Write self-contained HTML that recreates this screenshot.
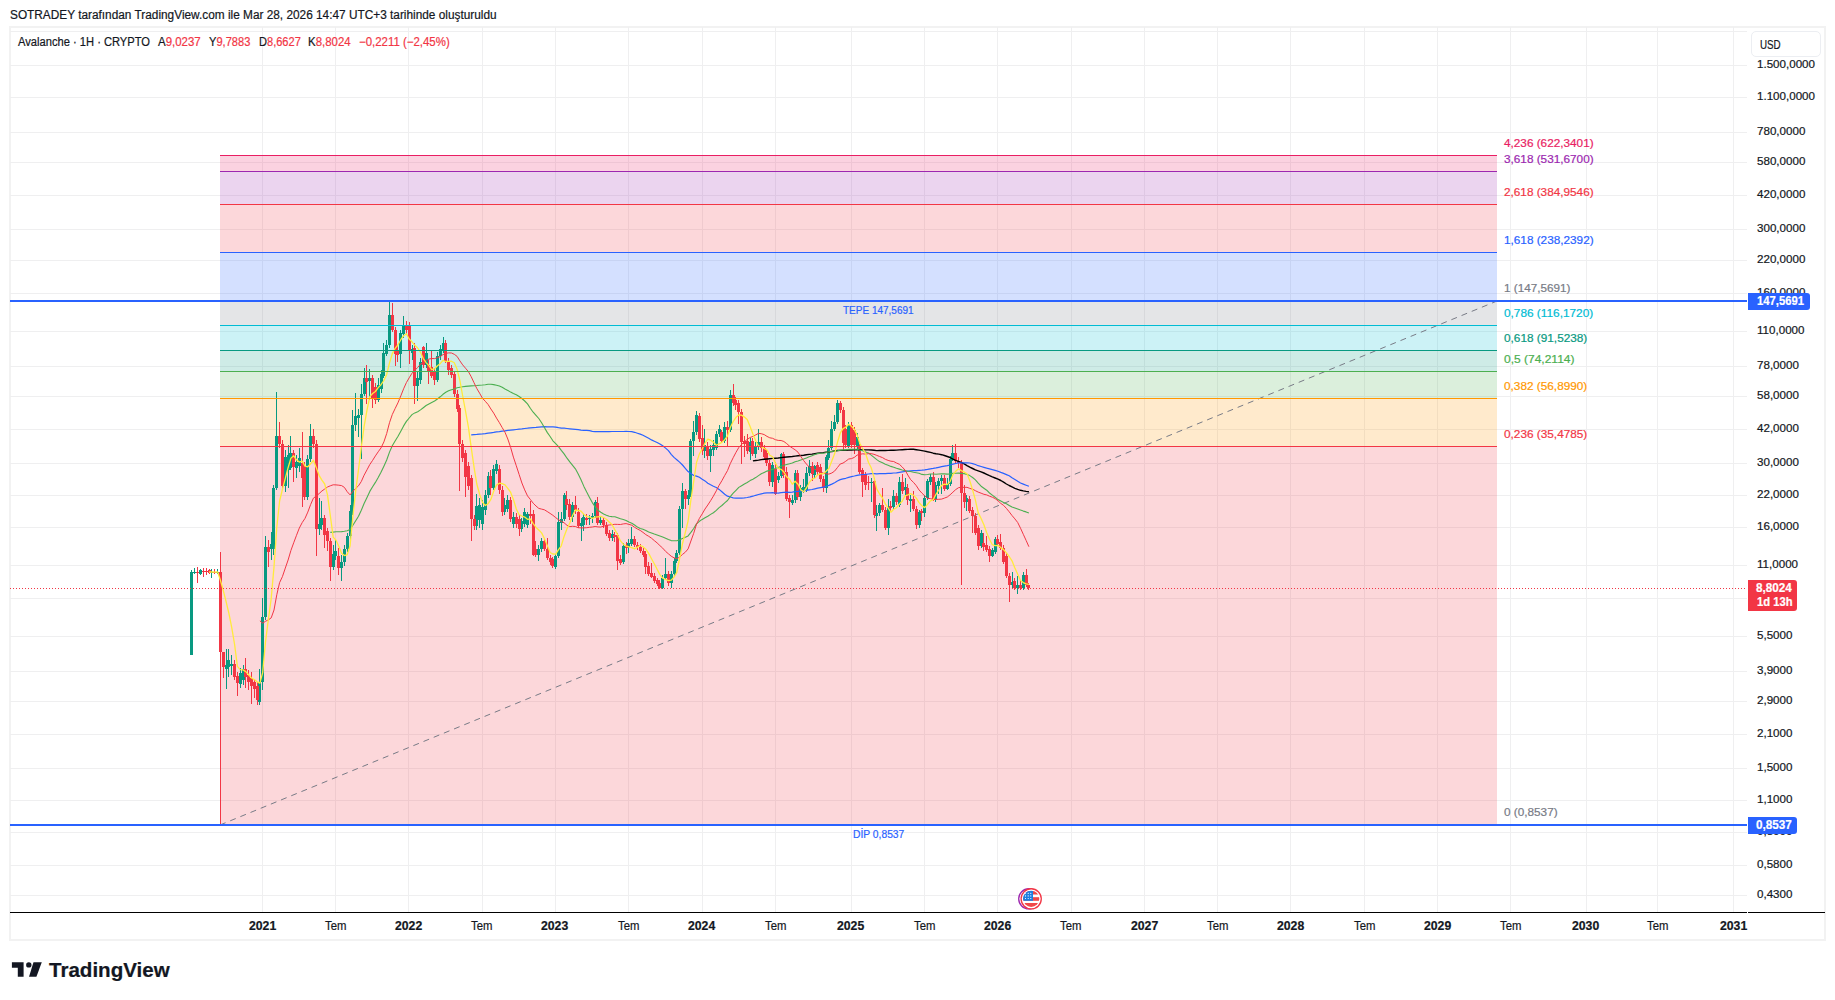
<!DOCTYPE html>
<html><head><meta charset="utf-8">
<style>
html,body{margin:0;padding:0;background:#fff;}
body{width:1835px;height:1000px;overflow:hidden;position:relative;font-family:"Liberation Sans",sans-serif;color:#131722;}
#frame{position:absolute;left:9px;top:26px;width:1813px;height:911px;border:2px solid #f2f2f2;}
#svg{position:absolute;left:0;top:0;}
.t{position:absolute;white-space:nowrap;transform-origin:0 0;-webkit-text-stroke:0.2px currentColor;}
#usd{position:absolute;left:1751px;top:31px;width:70px;height:26px;border:1px solid #eceef2;border-radius:5px;background:#fff;box-sizing:border-box;}
.badge{position:absolute;left:1748px;border-radius:0 3px 3px 0;z-index:2;}
#usd{z-index:2;}
</style></head><body>
<div id="frame"></div>
<svg id="svg" width="1835" height="1000" viewBox="0 0 1835 1000">
<path d="M10 31.5H1747 M10 65.5H1747 M10 97.5H1747 M10 132.5H1747 M10 162.5H1747 M10 195.5H1747 M10 229.5H1747 M10 260.5H1747 M10 293.5H1747 M10 331.5H1747 M10 366.5H1747 M10 396.5H1747 M10 429.5H1747 M10 463.5H1747 M10 495.5H1747 M10 527.5H1747 M10 565.5H1747 M10 598.5H1747 M10 636.5H1747 M10 671.5H1747 M10 701.5H1747 M10 734.5H1747 M10 768.5H1747 M10 800.5H1747 M10 832.5H1747 M10 865.5H1747 M10 895.5H1747 M262.5 27V912 M335.5 27V912 M408.5 27V912 M482.5 27V912 M555.5 27V912 M628.5 27V912 M702.5 27V912 M775.5 27V912 M851.5 27V912 M924.5 27V912 M997.5 27V912 M1071.5 27V912 M1144.5 27V912 M1217.5 27V912 M1290.5 27V912 M1364.5 27V912 M1437.5 27V912 M1510.5 27V912 M1586.5 27V912 M1657.5 27V912 M1733.5 27V912" stroke="#efeff0" stroke-width="1" fill="none"/>
<rect x="220" y="446.5" width="1277" height="378.5" fill="#f23645" fill-opacity="0.2"/>
<rect x="220" y="398.5" width="1277" height="48.0" fill="#ff9800" fill-opacity="0.2"/>
<rect x="220" y="371.5" width="1277" height="27.0" fill="#4caf50" fill-opacity="0.2"/>
<rect x="220" y="350.5" width="1277" height="21.0" fill="#089981" fill-opacity="0.2"/>
<rect x="220" y="325.5" width="1277" height="25.0" fill="#00bcd4" fill-opacity="0.2"/>
<rect x="220" y="301.0" width="1277" height="24.5" fill="#787b86" fill-opacity="0.2"/>
<rect x="220" y="252.5" width="1277" height="48.5" fill="#2962ff" fill-opacity="0.2"/>
<rect x="220" y="204.5" width="1277" height="48.0" fill="#f23645" fill-opacity="0.2"/>
<rect x="220" y="171.5" width="1277" height="33.0" fill="#9c27b0" fill-opacity="0.2"/>
<rect x="220" y="155.5" width="1277" height="16.0" fill="#e91e63" fill-opacity="0.2"/>
<line x1="220" y1="825.0" x2="1497" y2="301.0" stroke="#787b86" stroke-width="1" stroke-dasharray="6 5"/>
<path d="M191.5 570.0V655.0 M194.5 568.0V574.0 M200.5 569.0V575.0 M211.5 569.0V578.0 M217.5 569.0V574.0 M226.5 649.0V689.0 M228.5 649.0V677.0 M231.5 655.0V675.0 M240.5 668.0V688.0 M243.5 665.0V685.0 M259.5 669.0V705.0 M262.5 598.0V690.0 M265.5 536.0V620.0 M271.5 532.0V560.0 M273.5 485.0V555.0 M276.5 392.0V490.0 M285.5 450.0V492.0 M288.5 445.0V488.0 M290.5 436.0V470.0 M296.5 455.0V478.0 M299.5 448.0V472.0 M307.5 455.0V500.0 M310.5 424.0V462.0 M319.5 498.0V535.0 M321.5 501.0V530.0 M333.5 545.0V570.0 M335.5 540.0V560.0 M341.5 555.0V581.0 M344.5 545.0V566.0 M347.5 533.0V552.0 M350.5 505.0V540.0 M352.5 410.0V515.0 M355.5 393.0V431.0 M358.5 409.0V437.0 M361.5 384.0V459.0 M364.5 368.0V396.0 M369.5 369.0V400.0 M378.5 378.0V402.0 M381.5 370.0V393.0 M383.5 343.0V378.0 M386.5 340.0V356.0 M389.5 301.0V348.0 M400.5 330.0V368.0 M403.5 316.0V338.0 M412.5 345.0V360.0 M417.5 372.0V401.0 M420.5 358.0V384.0 M426.5 343.0V368.0 M437.5 352.0V382.0 M440.5 345.0V360.0 M443.5 337.0V353.0 M476.5 494.0V530.0 M479.5 498.0V528.0 M482.5 500.0V530.0 M485.5 490.0V515.0 M488.5 472.0V498.0 M493.5 465.0V490.0 M496.5 460.0V474.0 M504.5 498.0V515.0 M507.5 495.0V512.0 M513.5 512.0V528.0 M521.5 518.0V532.0 M524.5 508.0V527.0 M527.5 512.0V528.0 M538.5 545.0V561.0 M541.5 538.0V552.0 M555.5 554.0V569.0 M558.5 512.0V558.0 M561.5 512.0V530.0 M564.5 493.0V521.0 M572.5 502.0V522.0 M581.5 518.0V541.0 M583.5 514.0V531.0 M589.5 515.0V525.0 M592.5 513.0V523.0 M595.5 500.0V518.0 M600.5 516.0V525.0 M612.5 530.0V541.0 M623.5 543.0V564.0 M628.5 539.0V553.0 M631.5 527.0V546.0 M662.5 575.0V589.0 M665.5 558.0V580.0 M671.5 571.0V588.0 M674.5 558.0V576.0 M676.5 550.0V563.0 M679.5 506.0V555.0 M682.5 483.0V528.0 M688.5 490.0V505.0 M690.5 439.0V497.0 M693.5 421.0V456.0 M696.5 411.0V435.0 M704.5 429.0V458.0 M710.5 445.0V472.0 M713.5 440.0V456.0 M716.5 431.0V450.0 M719.5 425.0V437.0 M724.5 422.0V443.0 M730.5 390.0V432.0 M750.5 438.0V460.0 M755.5 442.0V458.0 M758.5 429.0V450.0 M772.5 462.0V487.0 M778.5 472.0V483.0 M781.5 453.0V478.0 M792.5 495.0V505.0 M795.5 470.0V503.0 M800.5 485.0V501.0 M803.5 479.0V493.0 M806.5 467.0V492.0 M809.5 460.0V476.0 M814.5 465.0V478.0 M826.5 455.0V493.0 M828.5 440.0V460.0 M831.5 421.0V450.0 M834.5 415.0V431.0 M837.5 400.0V424.0 M848.5 422.0V448.0 M857.5 433.0V449.0 M871.5 478.0V502.0 M876.5 505.0V531.0 M879.5 503.0V516.0 M888.5 499.0V535.0 M893.5 490.0V509.0 M899.5 477.0V507.0 M905.5 478.0V495.0 M910.5 495.0V512.0 M919.5 510.0V528.0 M924.5 495.0V517.0 M927.5 479.0V500.0 M930.5 474.0V485.0 M935.5 482.0V502.0 M938.5 478.0V494.0 M941.5 475.0V494.0 M947.5 478.0V490.0 M950.5 456.0V486.0 M952.5 445.0V461.0 M966.5 495.0V511.0 M981.5 530.0V548.0 M992.5 548.0V557.0 M995.5 537.0V554.0 M1012.5 572.0V588.0 M1017.5 576.0V594.0 M1023.5 572.0V590.0" stroke="#089981" stroke-width="1" fill="none"/>
<path d="M197.5 567.0V583.0 M203.5 568.0V577.0 M206.5 568.0V575.0 M209.5 569.0V574.0 M214.5 569.0V574.0 M220.5 552.0V826.0 M223.5 652.0V678.0 M234.5 660.0V680.0 M237.5 672.0V696.0 M245.5 658.0V688.0 M248.5 670.0V690.0 M251.5 672.0V704.0 M254.5 680.0V698.0 M257.5 682.0V705.0 M268.5 540.0V567.0 M279.5 422.0V448.0 M282.5 440.0V490.0 M293.5 450.0V482.0 M302.5 432.0V507.0 M304.5 462.0V500.0 M313.5 429.0V448.0 M316.5 440.0V556.0 M324.5 515.0V548.0 M327.5 528.0V551.0 M330.5 538.0V581.0 M338.5 548.0V575.0 M366.5 365.0V404.0 M372.5 375.0V408.0 M375.5 383.0V404.0 M392.5 303.0V332.0 M395.5 327.0V366.0 M397.5 345.0V362.0 M406.5 321.0V335.0 M409.5 322.0V364.0 M414.5 343.0V404.0 M423.5 346.0V368.0 M428.5 360.0V384.0 M431.5 350.0V378.0 M434.5 368.0V385.0 M445.5 340.0V363.0 M448.5 358.0V375.0 M451.5 365.0V378.0 M454.5 372.0V397.0 M457.5 390.0V412.0 M459.5 405.0V491.0 M462.5 440.0V462.0 M465.5 450.0V497.0 M468.5 462.0V490.0 M471.5 475.0V541.0 M474.5 515.0V530.0 M490.5 470.0V495.0 M499.5 465.0V494.0 M502.5 486.0V516.0 M510.5 497.0V522.0 M516.5 513.0V528.0 M519.5 515.0V536.0 M530.5 501.0V524.0 M533.5 510.0V556.0 M535.5 541.0V557.0 M544.5 539.0V551.0 M547.5 538.0V560.0 M550.5 555.0V565.0 M552.5 557.0V568.0 M566.5 491.0V510.0 M569.5 499.0V520.0 M575.5 496.0V514.0 M578.5 508.0V528.0 M586.5 514.0V525.0 M597.5 497.0V525.0 M603.5 517.0V528.0 M606.5 522.0V536.0 M609.5 530.0V541.0 M614.5 532.0V542.0 M617.5 533.0V570.0 M620.5 555.0V565.0 M626.5 542.0V554.0 M634.5 536.0V547.0 M637.5 542.0V550.0 M640.5 544.0V553.0 M643.5 548.0V557.0 M645.5 551.0V574.0 M648.5 562.0V576.0 M651.5 563.0V578.0 M654.5 573.0V583.0 M657.5 578.0V586.0 M659.5 580.0V589.0 M668.5 571.0V586.0 M685.5 489.0V509.0 M699.5 413.0V442.0 M702.5 425.0V455.0 M707.5 442.0V460.0 M721.5 430.0V443.0 M727.5 421.0V447.0 M733.5 384.0V406.0 M735.5 397.0V410.0 M738.5 400.0V424.0 M741.5 409.0V464.0 M744.5 436.0V457.0 M747.5 434.0V454.0 M752.5 438.0V456.0 M761.5 437.0V452.0 M764.5 445.0V460.0 M766.5 450.0V466.0 M769.5 460.0V486.0 M775.5 462.0V495.0 M783.5 452.0V478.0 M786.5 467.0V501.0 M789.5 495.0V518.0 M797.5 470.0V500.0 M812.5 462.0V481.0 M817.5 462.0V475.0 M820.5 464.0V482.0 M823.5 476.0V492.0 M840.5 401.0V413.0 M843.5 407.0V451.0 M845.5 425.0V448.0 M851.5 422.0V448.0 M854.5 427.0V454.0 M859.5 444.0V474.0 M862.5 468.0V497.0 M865.5 472.0V490.0 M868.5 476.0V490.0 M874.5 478.0V518.0 M882.5 488.0V512.0 M885.5 507.0V530.0 M890.5 501.0V511.0 M896.5 493.0V505.0 M902.5 474.0V494.0 M907.5 484.0V505.0 M913.5 491.0V511.0 M916.5 506.0V529.0 M921.5 509.0V521.0 M933.5 472.0V501.0 M944.5 475.0V491.0 M955.5 444.0V463.0 M958.5 457.0V468.0 M961.5 460.0V585.0 M964.5 485.0V508.0 M969.5 496.0V513.0 M972.5 507.0V533.0 M975.5 513.0V535.0 M978.5 525.0V550.0 M983.5 533.0V551.0 M986.5 536.0V552.0 M989.5 546.0V562.0 M997.5 535.0V546.0 M1000.5 534.0V550.0 M1003.5 545.0V564.0 M1006.5 553.0V578.0 M1009.5 573.0V602.0 M1014.5 578.0V590.0 M1020.5 580.0V590.0 M1026.5 569.0V587.0 M1028.5 583.0V590.0" stroke="#f23645" stroke-width="1" fill="none"/>
<path d="M190 572.0h3v83.0h-3z M193 572.0h3v1.0h-3z M199 570.0h3v4.0h-3z M210 572.0h3v1.0h-3z M216 572.0h3v1.0h-3z M225 665.0h3v4.0h-3z M227 660.0h3v7.0h-3z M230 664.0h3v2.0h-3z M239 673.0h3v11.0h-3z M242 669.0h3v11.0h-3z M258 682.0h3v20.0h-3z M261 617.0h3v65.0h-3z M264 547.0h3v70.0h-3z M270 544.0h3v5.0h-3z M272 488.0h3v61.0h-3z M275 436.0h3v52.0h-3z M284 457.0h3v29.0h-3z M287 455.0h3v15.0h-3z M289 453.0h3v15.0h-3z M295 462.0h3v6.0h-3z M298 458.0h3v8.0h-3z M306 459.0h3v38.0h-3z M309 436.0h3v23.0h-3z M318 524.0h3v5.0h-3z M320 518.0h3v7.0h-3z M332 554.0h3v13.0h-3z M334 551.0h3v5.0h-3z M340 562.0h3v6.0h-3z M343 549.0h3v13.0h-3z M346 536.0h3v13.0h-3z M349 511.0h3v25.0h-3z M351 425.0h3v86.0h-3z M354 416.0h3v9.0h-3z M357 415.0h3v3.0h-3z M360 394.0h3v21.0h-3z M363 378.0h3v16.0h-3z M368 378.0h3v3.0h-3z M377 385.0h3v15.0h-3z M380 374.0h3v15.0h-3z M382 353.0h3v23.0h-3z M385 345.0h3v9.0h-3z M388 315.0h3v30.0h-3z M399 333.0h3v21.0h-3z M402 325.0h3v9.0h-3z M411 349.0h3v4.0h-3z M416 378.0h3v8.0h-3z M419 362.0h3v18.0h-3z M425 353.0h3v12.0h-3z M436 356.0h3v24.0h-3z M439 349.0h3v7.0h-3z M442 343.0h3v8.0h-3z M475 506.0h3v20.0h-3z M478 505.0h3v15.0h-3z M481 507.0h3v17.0h-3z M484 495.0h3v15.0h-3z M487 476.0h3v19.0h-3z M492 469.0h3v19.0h-3z M495 464.0h3v7.0h-3z M503 505.0h3v7.0h-3z M506 500.0h3v9.0h-3z M512 517.0h3v7.0h-3z M520 521.0h3v8.0h-3z M523 512.0h3v12.0h-3z M526 514.0h3v11.0h-3z M537 549.0h3v6.0h-3z M540 541.0h3v8.0h-3z M554 556.0h3v11.0h-3z M557 522.0h3v34.0h-3z M560 519.0h3v4.0h-3z M563 495.0h3v24.0h-3z M571 505.0h3v12.0h-3z M580 523.0h3v3.0h-3z M582 517.0h3v8.0h-3z M588 518.0h3v1.0h-3z M591 516.0h3v2.0h-3z M594 502.0h3v14.0h-3z M599 520.0h3v3.0h-3z M611 534.0h3v4.0h-3z M622 546.0h3v16.0h-3z M627 543.0h3v4.0h-3z M630 539.0h3v5.0h-3z M661 578.0h3v10.0h-3z M664 574.0h3v4.0h-3z M670 574.0h3v9.0h-3z M673 561.0h3v13.0h-3z M675 553.0h3v8.0h-3z M678 509.0h3v44.0h-3z M681 491.0h3v18.0h-3z M687 495.0h3v4.0h-3z M689 441.0h3v54.0h-3z M692 432.0h3v9.0h-3z M695 415.0h3v17.0h-3z M703 445.0h3v6.0h-3z M709 449.0h3v7.0h-3z M712 445.0h3v5.0h-3z M715 434.0h3v14.0h-3z M718 429.0h3v5.0h-3z M723 427.0h3v14.0h-3z M729 395.0h3v35.0h-3z M749 442.0h3v10.0h-3z M754 446.0h3v8.0h-3z M757 442.0h3v5.0h-3z M771 465.0h3v17.0h-3z M777 476.0h3v4.0h-3z M780 454.0h3v22.0h-3z M791 500.0h3v3.0h-3z M794 473.0h3v27.0h-3z M799 488.0h3v9.0h-3z M802 487.0h3v3.0h-3z M805 473.0h3v17.0h-3z M808 466.0h3v7.0h-3z M813 466.0h3v9.0h-3z M825 457.0h3v31.0h-3z M827 448.0h3v10.0h-3z M830 429.0h3v19.0h-3z M833 422.0h3v7.0h-3z M836 403.0h3v19.0h-3z M847 425.0h3v21.0h-3z M856 437.0h3v9.0h-3z M870 482.0h3v1.0h-3z M875 513.0h3v3.0h-3z M878 505.0h3v8.0h-3z M887 508.0h3v20.0h-3z M892 496.0h3v11.0h-3z M898 482.0h3v23.0h-3z M904 487.0h3v3.0h-3z M909 499.0h3v2.0h-3z M918 512.0h3v13.0h-3z M923 498.0h3v15.0h-3z M926 481.0h3v17.0h-3z M929 477.0h3v5.0h-3z M934 485.0h3v14.0h-3z M937 481.0h3v5.0h-3z M940 478.0h3v3.0h-3z M946 484.0h3v5.0h-3z M949 459.0h3v25.0h-3z M951 453.0h3v6.0h-3z M965 498.0h3v4.0h-3z M980 533.0h3v13.0h-3z M991 550.0h3v6.0h-3z M994 539.0h3v13.0h-3z M1011 582.0h3v3.0h-3z M1016 585.0h3v3.0h-3z M1022 575.0h3v13.0h-3z" fill="#089981"/>
<path d="M196 572.0h3v1.0h-3z M202 571.0h3v1.0h-3z M205 571.0h3v1.0h-3z M208 570.0h3v3.0h-3z M213 572.0h3v1.0h-3z M219 572.0h3v80.0h-3z M222 652.0h3v15.0h-3z M233 664.0h3v13.0h-3z M236 676.0h3v7.0h-3z M244 669.0h3v8.0h-3z M247 675.0h3v7.0h-3z M250 678.0h3v8.0h-3z M253 682.0h3v7.0h-3z M256 686.0h3v14.0h-3z M267 547.0h3v5.0h-3z M278 436.0h3v8.0h-3z M281 444.0h3v42.0h-3z M292 453.0h3v14.0h-3z M301 463.0h3v15.0h-3z M303 466.0h3v31.0h-3z M312 436.0h3v8.0h-3z M315 444.0h3v85.0h-3z M323 518.0h3v17.0h-3z M326 531.0h3v10.0h-3z M329 541.0h3v26.0h-3z M337 556.0h3v12.0h-3z M365 378.0h3v4.0h-3z M371 378.0h3v21.0h-3z M374 387.0h3v13.0h-3z M391 315.0h3v15.0h-3z M394 330.0h3v24.0h-3z M396 350.0h3v5.0h-3z M405 325.0h3v5.0h-3z M408 326.0h3v25.0h-3z M413 348.0h3v38.0h-3z M422 347.0h3v18.0h-3z M427 365.0h3v6.0h-3z M430 367.0h3v9.0h-3z M433 372.0h3v8.0h-3z M444 343.0h3v18.0h-3z M447 361.0h3v9.0h-3z M450 368.0h3v7.0h-3z M453 374.0h3v20.0h-3z M456 394.0h3v15.0h-3z M458 408.0h3v36.0h-3z M461 444.0h3v14.0h-3z M464 453.0h3v24.0h-3z M467 466.0h3v20.0h-3z M470 478.0h3v41.0h-3z M473 519.0h3v7.0h-3z M489 476.0h3v12.0h-3z M498 469.0h3v21.0h-3z M501 490.0h3v22.0h-3z M509 500.0h3v19.0h-3z M515 517.0h3v7.0h-3z M518 519.0h3v10.0h-3z M529 514.0h3v2.0h-3z M532 514.0h3v41.0h-3z M534 549.0h3v6.0h-3z M543 541.0h3v8.0h-3z M546 549.0h3v9.0h-3z M549 558.0h3v4.0h-3z M551 559.0h3v7.0h-3z M565 499.0h3v6.0h-3z M568 504.0h3v13.0h-3z M574 505.0h3v5.0h-3z M577 512.0h3v14.0h-3z M585 518.0h3v2.0h-3z M596 503.0h3v20.0h-3z M602 520.0h3v5.0h-3z M605 525.0h3v9.0h-3z M608 533.0h3v5.0h-3z M613 535.0h3v2.0h-3z M616 535.0h3v26.0h-3z M619 559.0h3v4.0h-3z M625 545.0h3v3.0h-3z M633 539.0h3v6.0h-3z M636 545.0h3v2.0h-3z M639 547.0h3v4.0h-3z M642 551.0h3v4.0h-3z M644 554.0h3v13.0h-3z M647 566.0h3v8.0h-3z M650 573.0h3v4.0h-3z M653 576.0h3v5.0h-3z M656 580.0h3v4.0h-3z M658 583.0h3v5.0h-3z M667 574.0h3v9.0h-3z M684 491.0h3v8.0h-3z M698 416.0h3v23.0h-3z M701 438.0h3v13.0h-3z M706 446.0h3v10.0h-3z M720 432.0h3v9.0h-3z M726 427.0h3v3.0h-3z M732 395.0h3v8.0h-3z M734 400.0h3v5.0h-3z M737 403.0h3v9.0h-3z M740 412.0h3v30.0h-3z M743 441.0h3v3.0h-3z M746 441.0h3v10.0h-3z M751 441.0h3v13.0h-3z M760 442.0h3v6.0h-3z M763 448.0h3v9.0h-3z M765 453.0h3v10.0h-3z M768 463.0h3v19.0h-3z M774 469.0h3v25.0h-3z M782 454.0h3v21.0h-3z M785 472.0h3v27.0h-3z M788 498.0h3v4.0h-3z M796 473.0h3v24.0h-3z M811 466.0h3v8.0h-3z M816 465.0h3v7.0h-3z M819 467.0h3v12.0h-3z M822 479.0h3v9.0h-3z M839 403.0h3v7.0h-3z M842 410.0h3v33.0h-3z M844 429.0h3v16.0h-3z M850 425.0h3v20.0h-3z M853 430.0h3v15.0h-3z M858 446.0h3v26.0h-3z M861 470.0h3v12.0h-3z M864 474.0h3v11.0h-3z M867 482.0h3v1.0h-3z M873 481.0h3v34.0h-3z M881 505.0h3v5.0h-3z M884 510.0h3v18.0h-3z M889 506.0h3v2.0h-3z M895 496.0h3v6.0h-3z M901 482.0h3v9.0h-3z M906 488.0h3v12.0h-3z M912 499.0h3v10.0h-3z M915 509.0h3v16.0h-3z M920 511.0h3v2.0h-3z M932 477.0h3v23.0h-3z M943 478.0h3v11.0h-3z M954 453.0h3v8.0h-3z M957 461.0h3v2.0h-3z M960 463.0h3v30.0h-3z M963 493.0h3v9.0h-3z M968 499.0h3v12.0h-3z M971 510.0h3v6.0h-3z M974 516.0h3v17.0h-3z M977 528.0h3v18.0h-3z M982 543.0h3v4.0h-3z M985 545.0h3v5.0h-3z M988 549.0h3v7.0h-3z M996 539.0h3v5.0h-3z M999 542.0h3v6.0h-3z M1002 548.0h3v14.0h-3z M1005 556.0h3v20.0h-3z M1008 576.0h3v9.0h-3z M1013 581.0h3v7.0h-3z M1019 585.0h3v3.0h-3z M1025 575.0h3v10.0h-3z M1027 585.0h3v3.0h-3z" fill="#f23645"/>
<polyline points="752.9,460.9 755.7,460.5 758.5,460.1 761.3,459.6 764.2,459.3 767.0,459.0 769.8,458.7 772.6,458.4 775.4,458.2 778.2,458.0 781.1,457.6 783.9,457.3 786.7,457.0 789.5,456.7 792.3,456.5 795.1,456.1 798.0,455.8 800.8,455.5 803.6,455.2 806.4,454.8 809.2,454.4 812.0,454.1 814.9,453.7 817.7,453.3 820.5,452.9 823.3,452.6 826.1,452.2 828.9,451.9 831.8,451.5 834.6,451.0 837.4,450.5 840.2,450.4 843.0,450.4 845.8,450.2 848.7,450.0 851.5,450.0 854.3,449.9 857.1,449.8 859.9,449.8 862.7,449.9 865.6,449.9 868.4,449.9 871.2,450.0 874.0,450.3 876.8,450.6 879.6,450.5 882.5,450.5 885.3,450.5 888.1,450.4 890.9,450.3 893.7,450.2 896.5,450.1 899.4,449.9 902.2,449.7 905.0,449.5 907.8,449.4 910.6,449.3 913.5,449.3 916.3,449.7 919.1,450.1 921.9,450.6 924.7,451.1 927.5,451.8 930.4,452.4 933.2,453.2 936.0,453.7 938.8,454.1 941.6,454.7 944.4,455.5 947.3,456.5 950.1,457.5 952.9,459.1 955.7,460.4 958.5,461.4 961.3,462.4 964.2,463.9 967.0,465.6 969.8,467.2 972.6,468.5 975.4,469.9 978.2,470.8 981.1,471.8 983.9,473.0 986.7,474.3 989.5,475.7 992.3,476.9 995.1,478.0 998.0,479.1 1000.8,480.5 1003.6,482.2 1006.4,484.0 1009.2,485.5 1012.0,486.9 1014.9,488.3 1017.7,489.4 1020.5,490.3 1023.3,490.9 1026.1,491.4 1028.9,491.8" fill="none" stroke="#000000" stroke-width="1.4" stroke-linejoin="round"/>
<polyline points="471.2,434.8 474.0,434.6 476.8,434.4 479.6,434.1 482.5,433.9 485.3,433.6 488.1,433.2 490.9,432.8 493.7,432.4 496.5,431.9 499.4,431.6 502.2,431.2 505.0,430.9 507.8,430.4 510.6,430.1 513.4,429.8 516.3,429.5 519.1,429.2 521.9,428.9 524.7,428.5 527.5,428.2 530.3,427.8 533.2,427.6 536.0,427.4 538.8,427.1 541.6,426.9 544.4,426.7 547.2,426.8 550.1,426.8 552.9,426.9 555.7,427.1 558.5,427.7 561.3,428.1 564.1,428.2 567.0,428.5 569.8,428.8 572.6,429.1 575.4,429.4 578.2,429.7 581.0,430.1 583.9,430.3 586.7,430.4 589.5,430.7 592.3,431.3 595.1,431.7 597.9,431.6 600.8,431.6 603.6,431.7 606.4,431.7 609.2,431.6 612.0,431.5 614.9,431.5 617.7,431.5 620.5,431.5 623.3,431.5 626.1,431.4 628.9,431.5 631.8,431.6 634.6,432.3 637.4,433.2 640.2,434.1 643.0,435.3 645.8,436.8 648.7,438.3 651.5,439.9 654.3,441.2 657.1,442.5 659.9,444.0 662.7,445.8 665.6,448.1 668.4,450.6 671.2,454.3 674.0,457.4 676.8,459.8 679.6,462.1 682.5,465.0 685.3,468.3 688.1,471.6 690.9,473.5 693.7,475.5 696.5,476.1 699.4,477.3 702.2,479.2 705.0,480.9 707.8,483.2 710.6,484.8 713.4,486.3 716.3,487.5 719.1,489.4 721.9,491.8 724.7,494.3 727.5,496.2 730.3,497.0 733.2,497.8 736.0,498.1 738.8,498.2 741.6,498.1 744.4,497.9 747.2,497.5 750.1,496.9 752.9,496.2 755.7,495.3 758.5,494.5 761.3,493.8 764.2,493.2 767.0,492.9 769.8,492.9 772.6,492.7 775.4,493.0 778.2,493.1 781.1,492.7 783.9,492.3 786.7,492.2 789.5,492.3 792.3,492.1 795.1,491.7 798.0,491.4 800.8,491.1 803.6,490.8 806.4,490.4 809.2,489.9 812.0,489.5 814.9,488.8 817.7,488.1 820.5,487.6 823.3,487.1 826.1,486.3 828.9,485.4 831.8,484.1 834.6,482.7 837.4,481.0 840.2,479.6 843.0,478.8 845.8,478.3 848.7,477.4 851.5,476.6 854.3,476.0 857.1,475.3 859.9,474.8 862.7,474.5 865.6,474.3 868.4,474.0 871.2,473.7 874.0,473.7 876.8,473.8 879.6,473.7 882.5,473.6 885.3,473.6 888.1,473.4 890.9,473.3 893.7,473.0 896.5,472.8 899.4,472.3 902.2,471.9 905.0,471.5 907.8,471.2 910.6,470.9 913.5,470.7 916.3,470.6 919.1,470.4 921.9,470.2 924.7,469.9 927.5,469.4 930.4,468.8 933.2,468.4 936.0,467.9 938.8,467.3 941.6,466.7 944.4,466.2 947.3,465.7 950.1,465.0 952.9,464.2 955.7,463.5 958.5,462.9 961.3,462.8 964.2,462.9 967.0,462.9 969.8,463.0 972.6,463.6 975.4,464.5 978.2,465.7 981.1,466.5 983.9,467.3 986.7,468.1 989.5,468.8 992.3,469.6 995.1,470.4 998.0,471.3 1000.8,472.4 1003.6,473.4 1006.4,474.6 1009.2,475.8 1012.0,477.8 1014.9,479.5 1017.7,481.3 1020.5,483.0 1023.3,484.1 1026.1,485.2 1028.9,486.3" fill="none" stroke="#2962ff" stroke-width="1.2" stroke-linejoin="round"/>
<polyline points="330.3,532.4 333.2,532.1 336.0,531.8 338.8,531.7 341.6,531.6 344.4,531.3 347.2,530.7 350.1,529.6 352.9,525.3 355.7,520.7 358.5,516.3 361.3,510.3 364.1,503.5 367.0,497.4 369.8,491.4 372.6,486.8 375.4,482.4 378.2,477.5 381.0,472.3 383.9,466.2 386.7,460.0 389.5,452.1 392.3,445.7 395.1,441.0 397.9,436.5 400.8,431.2 403.6,425.9 406.4,421.4 409.2,418.0 412.0,414.6 414.8,412.9 417.7,411.7 420.5,409.9 423.3,407.7 426.1,405.5 428.9,403.9 431.7,402.5 434.6,401.0 437.4,399.0 440.2,396.8 443.0,394.3 445.8,392.3 448.6,390.8 451.5,389.7 454.3,389.0 457.1,387.8 459.9,387.2 462.7,386.7 465.5,386.4 468.4,386.1 471.2,385.9 474.0,385.7 476.8,385.5 479.6,385.2 482.5,385.0 485.3,384.7 488.1,384.3 490.9,384.2 493.7,384.6 496.5,385.2 499.4,386.0 502.2,387.3 505.0,388.9 507.8,390.4 510.6,392.1 513.4,393.5 516.3,394.8 519.1,396.5 521.9,398.5 524.7,401.0 527.5,403.9 530.3,408.2 533.2,412.2 536.0,415.4 538.8,418.5 541.6,422.7 544.4,427.6 547.2,432.4 550.1,436.5 552.9,440.8 555.7,443.7 558.5,446.7 561.3,450.4 564.1,453.9 567.0,458.2 569.8,461.9 572.6,465.4 575.4,468.8 578.2,474.0 581.0,479.8 583.9,486.4 586.7,492.1 589.5,497.4 592.3,502.6 595.1,506.6 597.9,510.2 600.8,512.3 603.6,514.0 606.4,515.2 609.2,516.3 612.0,516.6 614.9,516.8 617.7,517.8 620.5,518.8 623.3,519.5 626.1,520.5 628.9,522.1 631.8,523.2 634.6,525.0 637.4,527.1 640.2,528.5 643.0,529.3 645.8,530.5 648.7,531.9 651.5,532.9 654.3,534.0 657.1,535.0 659.9,536.0 662.7,537.0 665.6,538.2 668.4,539.5 671.2,540.6 674.0,540.7 676.8,540.7 679.6,539.8 682.5,538.5 685.3,537.3 688.1,535.9 690.9,532.4 693.7,528.5 696.5,523.9 699.4,521.3 702.2,519.4 705.0,517.8 707.8,516.3 710.6,514.4 713.4,512.7 716.3,510.4 719.1,507.6 721.9,505.5 724.7,502.9 727.5,500.5 730.3,496.6 733.2,493.2 736.0,490.3 738.8,487.4 741.6,485.7 744.4,484.0 747.2,482.5 750.1,480.6 752.9,479.2 755.7,477.6 758.5,475.6 761.3,473.8 764.2,472.4 767.0,471.1 769.8,470.3 772.6,469.2 775.4,468.6 778.2,467.6 781.1,466.2 783.9,465.2 786.7,464.5 789.5,463.8 792.3,463.0 795.1,461.8 798.0,461.0 800.8,460.0 803.6,459.1 806.4,458.0 809.2,456.7 812.0,455.7 814.9,454.6 817.7,453.6 820.5,453.2 823.3,453.2 826.1,452.5 828.9,451.7 831.8,451.4 834.6,451.2 837.4,450.8 840.2,450.1 843.0,449.9 845.8,449.9 848.7,449.2 851.5,449.2 854.3,449.2 857.1,449.2 859.9,450.1 862.7,450.8 865.6,451.9 868.4,453.0 871.2,455.1 874.0,457.4 876.8,459.6 879.6,461.6 882.5,462.8 885.3,464.2 888.1,465.2 890.9,466.4 893.7,467.2 896.5,468.2 899.4,469.1 902.2,470.0 905.0,470.6 907.8,471.2 910.6,471.5 913.5,472.3 916.3,472.7 919.1,473.3 921.9,474.4 924.7,474.8 927.5,474.5 930.4,474.0 933.2,474.0 936.0,474.3 938.8,474.0 941.6,473.8 944.4,473.9 947.3,474.1 950.1,473.9 952.9,473.4 955.7,473.3 958.5,473.1 961.3,473.4 964.2,473.6 967.0,474.4 969.8,475.6 972.6,477.5 975.4,479.9 978.2,483.2 981.1,486.2 983.9,488.2 986.7,490.2 989.5,493.0 992.3,495.1 995.1,497.2 998.0,499.6 1000.8,501.0 1003.6,502.4 1006.4,503.8 1009.2,505.4 1012.0,507.0 1014.9,508.0 1017.7,509.0 1020.5,510.1 1023.3,511.1 1026.1,511.9 1028.9,513.0" fill="none" stroke="#4caf50" stroke-width="1.1" stroke-linejoin="round"/>
<polyline points="259.9,620.8 262.7,623.2 265.5,621.3 268.4,619.8 271.2,617.9 274.0,610.0 276.8,594.7 279.6,582.6 282.4,576.7 285.3,568.1 288.1,560.0 290.9,550.5 293.7,542.8 296.5,535.3 299.3,528.1 302.2,522.6 305.0,518.4 307.8,512.1 310.6,504.6 313.4,498.2 316.2,496.0 319.1,493.6 321.9,491.0 324.7,489.0 327.5,487.0 330.3,485.8 333.2,484.8 336.0,484.9 338.8,485.2 341.6,485.6 344.4,487.4 347.2,491.7 350.1,494.9 352.9,491.3 355.7,488.5 358.5,485.8 361.3,481.5 364.1,475.2 367.0,469.8 369.8,464.5 372.6,460.4 375.4,455.9 378.2,451.8 381.0,447.9 383.9,441.9 386.7,433.5 389.5,422.7 392.3,414.5 395.1,408.6 397.9,402.9 400.8,395.9 403.6,388.8 406.4,382.6 409.2,377.8 412.0,373.2 414.8,370.4 417.7,367.4 420.5,364.2 423.3,362.4 426.1,360.4 428.9,359.1 431.7,358.5 434.6,358.6 437.4,357.7 440.2,356.6 443.0,354.6 445.8,353.4 448.6,352.9 451.5,353.0 454.3,354.3 457.1,356.4 459.9,360.9 462.7,364.9 465.5,368.2 468.4,371.6 471.2,376.7 474.0,382.7 476.8,388.5 479.6,393.2 482.5,398.3 485.3,401.3 488.1,404.5 490.9,409.0 493.7,413.1 496.5,418.1 499.4,422.7 502.2,427.6 505.0,432.3 507.8,439.0 510.6,447.3 513.4,457.1 516.3,465.8 519.1,474.4 521.9,483.0 524.7,489.9 527.5,495.9 530.3,499.4 533.2,503.2 536.0,506.0 538.8,508.4 541.6,509.1 544.4,509.8 547.2,511.5 550.1,513.4 552.9,515.3 555.7,517.6 558.5,519.8 561.3,521.3 564.1,522.8 567.0,525.3 569.8,526.6 572.6,526.3 575.4,526.5 578.2,527.7 581.0,527.9 583.9,527.9 586.7,527.7 589.5,527.3 592.3,527.0 595.1,526.5 597.9,526.9 600.8,527.1 603.6,526.1 606.4,525.4 609.2,525.0 612.0,524.7 614.9,524.3 617.7,524.4 620.5,524.5 623.3,523.9 626.1,523.6 628.9,524.4 631.8,525.2 634.6,527.3 637.4,529.0 640.2,530.4 643.0,532.4 645.8,534.6 648.7,536.3 651.5,538.2 654.3,540.6 657.1,542.9 659.9,545.6 662.7,548.1 665.6,551.4 668.4,553.8 671.2,556.2 674.0,557.8 676.8,558.7 679.6,557.1 682.5,554.4 685.3,552.2 688.1,548.9 690.9,541.0 693.7,533.3 696.5,524.2 699.4,518.4 702.2,513.9 705.0,509.0 707.8,505.0 710.6,500.7 713.4,496.1 716.3,490.8 719.1,485.3 721.9,480.7 724.7,475.5 727.5,470.6 730.3,463.6 733.2,457.7 736.0,452.3 738.8,447.5 741.6,444.5 744.4,441.7 747.2,439.4 750.1,437.5 752.9,436.4 755.7,434.9 758.5,433.4 761.3,433.7 764.2,434.6 767.0,436.4 769.8,437.8 772.6,438.3 775.4,439.7 778.2,440.4 781.1,440.5 783.9,441.5 786.7,443.6 789.5,446.1 792.3,448.0 795.1,449.8 798.0,452.2 800.8,456.6 803.6,460.5 806.4,464.0 809.2,466.9 812.0,468.3 814.9,469.3 817.7,470.2 820.5,471.8 823.3,473.2 826.1,473.8 828.9,474.1 831.8,473.0 834.6,471.1 837.4,467.6 840.2,464.0 843.0,463.1 845.8,461.2 848.7,459.0 851.5,458.6 854.3,457.4 857.1,455.1 859.9,454.3 862.7,453.8 865.6,454.1 868.4,453.7 871.2,453.6 874.0,454.3 876.8,455.4 879.6,456.5 882.5,457.6 885.3,459.3 888.1,460.4 890.9,461.2 893.7,461.5 896.5,463.0 899.4,464.3 902.2,467.0 905.0,470.0 907.8,475.0 910.6,479.6 913.5,482.4 916.3,485.7 919.1,490.0 921.9,493.1 924.7,495.8 927.5,498.4 930.4,498.6 933.2,499.4 936.0,499.4 938.8,499.3 941.6,499.1 944.4,498.1 947.3,497.0 950.1,494.8 952.9,492.2 955.7,489.6 958.5,487.7 961.3,487.2 964.2,487.4 967.0,487.3 969.8,488.4 972.6,489.2 975.4,490.7 978.2,492.1 981.1,493.2 983.9,494.3 986.7,494.9 989.5,496.2 992.3,497.2 995.1,498.6 998.0,500.8 1000.8,503.4 1003.6,505.4 1006.4,508.4 1009.2,511.8 1012.0,515.5 1014.9,518.9 1017.7,522.5 1020.5,528.2 1023.3,534.3 1026.1,540.4 1028.9,546.7" fill="none" stroke="#f23645" stroke-width="1.0" stroke-linejoin="round"/>
<polyline points="209.0,572.0 211.9,572.0 214.8,572.1 217.7,572.0 220.5,580.5 223.3,590.6 226.1,601.7 228.9,613.4 231.7,627.3 234.6,644.5 237.4,666.4 240.2,669.6 243.0,669.9 245.8,671.6 248.6,674.8 251.5,678.0 254.3,679.6 257.1,681.8 259.9,683.2 262.7,672.6 265.5,641.8 268.4,619.1 271.2,598.5 274.0,566.9 276.8,527.1 279.6,501.0 282.4,489.5 285.3,478.4 288.1,467.7 290.9,458.2 293.7,455.8 296.5,459.8 299.3,462.1 302.2,461.1 305.0,466.2 307.8,466.8 310.6,463.8 313.4,460.3 316.2,467.4 319.1,475.3 321.9,480.1 324.7,484.0 327.5,494.8 330.3,515.5 333.2,537.1 336.0,540.2 338.8,546.3 341.6,553.3 344.4,555.6 347.2,554.7 350.1,545.7 352.9,516.2 355.7,491.0 358.5,469.6 361.3,447.5 364.1,426.4 367.0,410.2 369.8,396.6 372.6,393.5 375.4,391.5 378.2,387.6 381.0,384.7 383.9,380.5 386.7,374.4 389.5,363.0 392.3,353.6 395.1,348.4 397.9,345.0 400.8,339.7 403.6,335.8 406.4,333.7 409.2,339.0 412.0,341.8 414.8,345.3 417.7,348.0 420.5,352.3 423.3,358.6 426.1,362.6 428.9,365.6 431.7,369.6 434.6,368.9 437.4,365.7 440.2,363.7 443.0,360.3 445.8,361.5 448.6,361.3 451.5,361.2 454.3,362.8 457.1,369.3 459.9,380.7 462.7,396.0 465.5,411.0 468.4,427.0 471.2,447.3 474.0,466.9 476.8,484.0 479.6,494.2 482.5,502.4 485.3,505.5 488.1,503.7 490.9,499.4 493.7,491.3 496.5,485.1 499.4,483.2 502.2,483.7 505.0,484.9 507.8,488.3 510.6,492.2 513.4,499.4 516.3,509.0 519.1,514.7 521.9,516.0 524.7,517.1 527.5,519.3 530.3,518.8 533.2,523.6 536.0,527.4 538.8,530.0 541.6,532.9 544.4,538.5 547.2,545.2 550.1,552.5 552.9,554.0 555.7,554.1 558.5,549.6 561.3,545.8 564.1,536.4 567.0,528.7 569.8,523.0 572.6,515.5 575.4,510.0 578.2,510.5 581.0,511.1 583.9,514.4 586.7,516.6 589.5,516.8 592.3,518.5 595.1,517.2 597.9,516.8 600.8,516.4 603.6,517.5 606.4,519.3 609.2,522.0 612.0,524.5 614.9,529.9 617.7,534.9 620.5,540.9 623.3,544.1 626.1,546.2 628.9,546.9 631.8,547.7 634.6,548.9 637.4,547.1 640.2,545.5 643.0,546.7 645.8,549.2 648.7,553.4 651.5,558.7 654.3,563.8 657.1,569.2 659.9,574.6 662.7,578.2 665.6,579.3 668.4,580.6 671.2,580.2 674.0,577.1 676.8,572.4 679.6,558.7 682.5,543.6 685.3,532.5 688.1,521.0 690.9,500.0 693.7,481.5 696.5,462.6 699.4,453.9 702.2,449.1 705.0,443.1 707.8,439.1 710.6,440.2 713.4,442.1 716.3,445.3 719.1,443.8 721.9,442.4 724.7,439.7 727.5,436.1 730.3,427.5 733.2,421.5 736.0,417.3 738.8,415.0 741.6,415.1 744.4,417.1 747.2,419.5 750.1,426.6 752.9,434.1 755.7,440.7 758.5,445.8 761.3,446.6 764.2,448.4 767.0,450.0 769.8,455.3 772.6,456.8 775.4,463.1 778.2,468.3 781.1,469.3 783.9,472.0 786.7,476.8 789.5,479.3 792.3,484.3 795.1,481.3 798.0,484.2 800.8,489.9 803.6,491.8 806.4,488.0 809.2,482.7 812.0,479.2 814.9,478.1 817.7,474.8 820.5,473.6 823.3,473.8 826.1,471.3 828.9,468.4 831.8,461.0 834.6,453.8 837.4,442.6 840.2,433.2 843.0,428.6 845.8,427.2 848.7,424.3 851.5,426.3 854.3,429.4 857.1,434.9 859.9,443.8 862.7,448.5 865.6,453.5 868.4,462.3 871.2,467.7 874.0,477.1 876.8,489.2 879.6,494.0 882.5,498.0 885.3,503.9 888.1,507.9 890.9,512.2 893.7,509.3 896.5,507.7 899.4,504.0 902.2,501.2 905.0,495.8 907.8,494.8 910.6,493.6 913.5,495.3 916.3,498.1 919.1,502.6 921.9,505.8 924.7,507.6 927.5,504.4 930.4,500.8 933.2,499.6 936.0,494.3 938.8,490.0 941.6,485.3 944.4,484.2 947.3,484.6 950.1,481.6 952.9,474.7 955.7,471.3 958.5,468.8 961.3,470.6 964.2,472.1 967.0,473.7 969.8,480.7 972.6,489.9 975.4,500.2 978.2,512.6 981.1,518.5 983.9,524.8 986.7,532.7 989.5,539.3 992.3,544.7 995.1,545.6 998.0,545.3 1000.8,547.6 1003.6,549.6 1006.4,552.9 1009.2,556.5 1012.0,560.8 1014.9,567.9 1017.7,574.2 1020.5,580.5 1023.3,582.6 1026.1,583.9 1028.9,584.3" fill="none" stroke="#ffeb3b" stroke-width="1.3" stroke-linejoin="round"/>
<line x1="220" y1="825.0" x2="1497" y2="825.0" stroke="#787b86" stroke-width="1"/>
<line x1="220" y1="446.5" x2="1497" y2="446.5" stroke="#f23645" stroke-width="1"/>
<line x1="220" y1="398.5" x2="1497" y2="398.5" stroke="#ff9800" stroke-width="1"/>
<line x1="220" y1="371.5" x2="1497" y2="371.5" stroke="#4caf50" stroke-width="1"/>
<line x1="220" y1="350.5" x2="1497" y2="350.5" stroke="#089981" stroke-width="1"/>
<line x1="220" y1="325.5" x2="1497" y2="325.5" stroke="#00bcd4" stroke-width="1"/>
<line x1="220" y1="252.5" x2="1497" y2="252.5" stroke="#2962ff" stroke-width="1"/>
<line x1="220" y1="204.5" x2="1497" y2="204.5" stroke="#f23645" stroke-width="1"/>
<line x1="220" y1="171.5" x2="1497" y2="171.5" stroke="#9c27b0" stroke-width="1"/>
<line x1="220" y1="155.5" x2="1497" y2="155.5" stroke="#e91e63" stroke-width="1"/>
<rect x="10" y="300" width="1737" height="2" fill="#2962ff"/>
<rect x="10" y="824" width="1737" height="2" fill="#2962ff"/>
<line x1="10" y1="588.5" x2="1747" y2="588.5" stroke="#f23645" stroke-width="1" stroke-dasharray="1 2"/>
<rect x="10" y="912" width="1737" height="1" fill="#000"/>
<rect x="1748" y="912" width="77" height="1" fill="#000"/>
</svg>
<div id="usd"></div>
<div class="badge" style="top:293px;width:62px;height:17px;background:#2962ff;"></div>
<div class="badge" style="top:817px;width:49px;height:17px;background:#2962ff;"></div>
<div class="badge" style="top:580px;width:49px;height:31px;background:#f23645;"></div>
<div class="t" id="t0" style="left:10.2px;top:8.7px;font-size:12px;line-height:12px;font-weight:normal;color:#131722;transform:scaleX(0.9860)">SOTRADEY tarafından TradingView.com ile Mar 28, 2026 14:47 UTC+3 tarihinde oluşturuldu</div>
<div class="t" id="t1" style="left:18.4px;top:35.8px;font-size:12px;line-height:12px;font-weight:normal;color:#131722;transform:scaleX(0.9292)">Avalanche · 1H · CRYPTO</div>
<div class="t" id="t2" style="left:158.0px;top:35.8px;font-size:12px;line-height:12px;font-weight:normal;color:#131722;transform:scaleX(0.9549)">A<span style="color:#f23645">9,0237</span></div>
<div class="t" id="t3" style="left:208.9px;top:35.8px;font-size:12px;line-height:12px;font-weight:normal;color:#131722;transform:scaleX(0.9235)">Y<span style="color:#f23645">9,7883</span></div>
<div class="t" id="t4" style="left:258.6px;top:35.8px;font-size:12px;line-height:12px;font-weight:normal;color:#131722;transform:scaleX(0.9212)">D<span style="color:#f23645">8,6627</span></div>
<div class="t" id="t5" style="left:308.3px;top:35.8px;font-size:12px;line-height:12px;font-weight:normal;color:#131722;transform:scaleX(0.9549)">K<span style="color:#f23645">8,8024</span></div>
<div class="t" id="t6" style="left:358.9px;top:35.8px;font-size:12px;line-height:12px;font-weight:normal;color:#131722;transform:scaleX(0.9529)"><span style="color:#f23645">−0,2211 (−2,45%)</span></div>
<div class="t" id="t7" style="left:1504.4px;top:807.0px;font-size:11px;line-height:11px;font-weight:normal;color:#787b86;transform:scaleX(1.0687)">0 (0,8537)</div>
<div class="t" id="t8" style="left:1504.4px;top:428.5px;font-size:11px;line-height:11px;font-weight:normal;color:#f23645;transform:scaleX(1.0725)">0,236 (35,4785)</div>
<div class="t" id="t9" style="left:1504.4px;top:380.5px;font-size:11px;line-height:11px;font-weight:normal;color:#ff9800;transform:scaleX(1.0725)">0,382 (56,8990)</div>
<div class="t" id="t10" style="left:1504.4px;top:353.5px;font-size:11px;line-height:11px;font-weight:normal;color:#4caf50;transform:scaleX(1.0909)">0,5 (74,2114)</div>
<div class="t" id="t11" style="left:1504.4px;top:332.5px;font-size:11px;line-height:11px;font-weight:normal;color:#089981;transform:scaleX(1.0725)">0,618 (91,5238)</div>
<div class="t" id="t12" style="left:1504.4px;top:307.5px;font-size:11px;line-height:11px;font-weight:normal;color:#00bcd4;transform:scaleX(1.0749)">0,786 (116,1720)</div>
<div class="t" id="t13" style="left:1504.4px;top:283.0px;font-size:11px;line-height:11px;font-weight:normal;color:#787b86;transform:scaleX(1.0627)">1 (147,5691)</div>
<div class="t" id="t14" style="left:1504.4px;top:234.5px;font-size:11px;line-height:11px;font-weight:normal;color:#2962ff;transform:scaleX(1.0693)">1,618 (238,2392)</div>
<div class="t" id="t15" style="left:1504.4px;top:186.5px;font-size:11px;line-height:11px;font-weight:normal;color:#f23645;transform:scaleX(1.0693)">2,618 (384,9546)</div>
<div class="t" id="t16" style="left:1504.4px;top:153.5px;font-size:11px;line-height:11px;font-weight:normal;color:#9c27b0;transform:scaleX(1.0693)">3,618 (531,6700)</div>
<div class="t" id="t17" style="left:1504.4px;top:137.5px;font-size:11px;line-height:11px;font-weight:normal;color:#e91e63;transform:scaleX(1.0693)">4,236 (622,3401)</div>
<div class="t" id="t18" style="left:1756.7px;top:59.1px;font-size:11px;line-height:11px;font-weight:normal;color:#131722;transform:scaleX(1.0533)">1.500,0000</div>
<div class="t" id="t19" style="left:1756.7px;top:90.6px;font-size:11px;line-height:11px;font-weight:normal;color:#131722;transform:scaleX(1.0533)">1.100,0000</div>
<div class="t" id="t20" style="left:1756.7px;top:125.6px;font-size:11px;line-height:11px;font-weight:normal;color:#131722;transform:scaleX(1.0533)">780,0000</div>
<div class="t" id="t21" style="left:1756.7px;top:155.8px;font-size:11px;line-height:11px;font-weight:normal;color:#131722;transform:scaleX(1.0533)">580,0000</div>
<div class="t" id="t22" style="left:1756.7px;top:188.6px;font-size:11px;line-height:11px;font-weight:normal;color:#131722;transform:scaleX(1.0533)">420,0000</div>
<div class="t" id="t23" style="left:1756.7px;top:222.9px;font-size:11px;line-height:11px;font-weight:normal;color:#131722;transform:scaleX(1.0533)">300,0000</div>
<div class="t" id="t24" style="left:1756.7px;top:254.4px;font-size:11px;line-height:11px;font-weight:normal;color:#131722;transform:scaleX(1.0533)">220,0000</div>
<div class="t" id="t25" style="left:1756.7px;top:286.8px;font-size:11px;line-height:11px;font-weight:normal;color:#131722;transform:scaleX(1.0533)">160,0000</div>
<div class="t" id="t26" style="left:1756.7px;top:325.0px;font-size:11px;line-height:11px;font-weight:normal;color:#131722;transform:scaleX(1.0533)">110,0000</div>
<div class="t" id="t27" style="left:1756.7px;top:360.0px;font-size:11px;line-height:11px;font-weight:normal;color:#131722;transform:scaleX(1.0533)">78,0000</div>
<div class="t" id="t28" style="left:1756.7px;top:390.1px;font-size:11px;line-height:11px;font-weight:normal;color:#131722;transform:scaleX(1.0533)">58,0000</div>
<div class="t" id="t29" style="left:1756.7px;top:423.0px;font-size:11px;line-height:11px;font-weight:normal;color:#131722;transform:scaleX(1.0533)">42,0000</div>
<div class="t" id="t30" style="left:1756.7px;top:457.2px;font-size:11px;line-height:11px;font-weight:normal;color:#131722;transform:scaleX(1.0533)">30,0000</div>
<div class="t" id="t31" style="left:1756.7px;top:488.8px;font-size:11px;line-height:11px;font-weight:normal;color:#131722;transform:scaleX(1.0533)">22,0000</div>
<div class="t" id="t32" style="left:1756.7px;top:521.2px;font-size:11px;line-height:11px;font-weight:normal;color:#131722;transform:scaleX(1.0533)">16,0000</div>
<div class="t" id="t33" style="left:1756.7px;top:559.3px;font-size:11px;line-height:11px;font-weight:normal;color:#131722;transform:scaleX(1.0533)">11,0000</div>
<div class="t" id="t34" style="left:1756.7px;top:591.8px;font-size:11px;line-height:11px;font-weight:normal;color:#131722;transform:scaleX(1.0533)">8,0000</div>
<div class="t" id="t35" style="left:1756.7px;top:629.9px;font-size:11px;line-height:11px;font-weight:normal;color:#131722;transform:scaleX(1.0533)">5,5000</div>
<div class="t" id="t36" style="left:1756.7px;top:664.9px;font-size:11px;line-height:11px;font-weight:normal;color:#131722;transform:scaleX(1.0533)">3,9000</div>
<div class="t" id="t37" style="left:1756.7px;top:695.0px;font-size:11px;line-height:11px;font-weight:normal;color:#131722;transform:scaleX(1.0533)">2,9000</div>
<div class="t" id="t38" style="left:1756.7px;top:727.9px;font-size:11px;line-height:11px;font-weight:normal;color:#131722;transform:scaleX(1.0533)">2,1000</div>
<div class="t" id="t39" style="left:1756.7px;top:762.1px;font-size:11px;line-height:11px;font-weight:normal;color:#131722;transform:scaleX(1.0533)">1,5000</div>
<div class="t" id="t40" style="left:1756.7px;top:793.7px;font-size:11px;line-height:11px;font-weight:normal;color:#131722;transform:scaleX(1.0533)">1,1000</div>
<div class="t" id="t41" style="left:1756.7px;top:826.1px;font-size:11px;line-height:11px;font-weight:normal;color:#131722;transform:scaleX(1.0533)">0,8000</div>
<div class="t" id="t42" style="left:1756.7px;top:858.8px;font-size:11px;line-height:11px;font-weight:normal;color:#131722;transform:scaleX(1.0533)">0,5800</div>
<div class="t" id="t43" style="left:1756.7px;top:889.3px;font-size:11px;line-height:11px;font-weight:normal;color:#131722;transform:scaleX(1.0533)">0,4300</div>
<div class="t" id="t44" style="left:248.9px;top:919.9px;font-size:12px;line-height:12px;font-weight:bold;color:#131722;transform:scaleX(1.0186)">2021</div>
<div class="t" id="t45" style="left:324.8px;top:919.9px;font-size:12px;line-height:12px;font-weight:normal;color:#131722;transform:scaleX(0.9439)">Tem</div>
<div class="t" id="t46" style="left:394.9px;top:919.9px;font-size:12px;line-height:12px;font-weight:bold;color:#131722;transform:scaleX(1.0186)">2022</div>
<div class="t" id="t47" style="left:471.3px;top:919.9px;font-size:12px;line-height:12px;font-weight:normal;color:#131722;transform:scaleX(0.9439)">Tem</div>
<div class="t" id="t48" style="left:541.4px;top:919.9px;font-size:12px;line-height:12px;font-weight:bold;color:#131722;transform:scaleX(1.0186)">2023</div>
<div class="t" id="t49" style="left:617.8px;top:919.9px;font-size:12px;line-height:12px;font-weight:normal;color:#131722;transform:scaleX(0.9439)">Tem</div>
<div class="t" id="t50" style="left:688.4px;top:919.9px;font-size:12px;line-height:12px;font-weight:bold;color:#131722;transform:scaleX(1.0186)">2024</div>
<div class="t" id="t51" style="left:764.8px;top:919.9px;font-size:12px;line-height:12px;font-weight:normal;color:#131722;transform:scaleX(0.9439)">Tem</div>
<div class="t" id="t52" style="left:837.4px;top:919.9px;font-size:12px;line-height:12px;font-weight:bold;color:#131722;transform:scaleX(1.0186)">2025</div>
<div class="t" id="t53" style="left:913.8px;top:919.9px;font-size:12px;line-height:12px;font-weight:normal;color:#131722;transform:scaleX(0.9439)">Tem</div>
<div class="t" id="t54" style="left:983.9px;top:919.9px;font-size:12px;line-height:12px;font-weight:bold;color:#131722;transform:scaleX(1.0186)">2026</div>
<div class="t" id="t55" style="left:1060.3px;top:919.9px;font-size:12px;line-height:12px;font-weight:normal;color:#131722;transform:scaleX(0.9439)">Tem</div>
<div class="t" id="t56" style="left:1130.9px;top:919.9px;font-size:12px;line-height:12px;font-weight:bold;color:#131722;transform:scaleX(1.0186)">2027</div>
<div class="t" id="t57" style="left:1206.8px;top:919.9px;font-size:12px;line-height:12px;font-weight:normal;color:#131722;transform:scaleX(0.9439)">Tem</div>
<div class="t" id="t58" style="left:1276.9px;top:919.9px;font-size:12px;line-height:12px;font-weight:bold;color:#131722;transform:scaleX(1.0186)">2028</div>
<div class="t" id="t59" style="left:1353.8px;top:919.9px;font-size:12px;line-height:12px;font-weight:normal;color:#131722;transform:scaleX(0.9439)">Tem</div>
<div class="t" id="t60" style="left:1423.9px;top:919.9px;font-size:12px;line-height:12px;font-weight:bold;color:#131722;transform:scaleX(1.0186)">2029</div>
<div class="t" id="t61" style="left:1499.8px;top:919.9px;font-size:12px;line-height:12px;font-weight:normal;color:#131722;transform:scaleX(0.9439)">Tem</div>
<div class="t" id="t62" style="left:1572.4px;top:919.9px;font-size:12px;line-height:12px;font-weight:bold;color:#131722;transform:scaleX(1.0186)">2030</div>
<div class="t" id="t63" style="left:1646.5px;top:919.9px;font-size:12px;line-height:12px;font-weight:normal;color:#131722;transform:scaleX(0.9439)">Tem</div>
<div class="t" id="t64" style="left:1719.9px;top:919.9px;font-size:12px;line-height:12px;font-weight:bold;color:#131722;transform:scaleX(1.0186)">2031</div>
<div class="t" id="t65" style="left:843.2px;top:304.8px;font-size:11px;line-height:11px;font-weight:normal;color:#2962ff;transform:scaleX(0.9090)">TEPE 147,5691</div>
<div class="t" id="t66" style="left:853.4px;top:828.8px;font-size:11px;line-height:11px;font-weight:normal;color:#2962ff;transform:scaleX(0.9354)">DİP 0,8537</div>
<div class="t" id="t67" style="left:1760.3px;top:38.7px;z-index:3;font-size:12px;line-height:12px;font-weight:normal;color:#131722;transform:scaleX(0.8168)">USD</div>
<div class="t" id="t68" style="left:1756.6px;top:294.9px;z-index:3;font-size:12px;line-height:12px;font-weight:bold;color:#ffffff;transform:scaleX(0.9368)">147,5691</div>
<div class="t" id="t69" style="left:1755.8px;top:818.8px;z-index:3;font-size:12px;line-height:12px;font-weight:bold;color:#ffffff;transform:scaleX(0.9754)">0,8537</div>
<div class="t" id="t70" style="left:1756.0px;top:581.8px;z-index:3;font-size:12px;line-height:12px;font-weight:bold;color:#ffffff;transform:scaleX(0.9754)">8,8024</div>
<div class="t" id="t71" style="left:1756.5px;top:595.8px;z-index:3;font-size:12px;line-height:12px;font-weight:bold;color:#ffffff;transform:scaleX(0.9338)">1d 13h</div>
<div class="t" id="t72" style="left:49.2px;top:959.7px;font-size:20px;line-height:20px;font-weight:bold;color:#131722;transform:scaleX(1.0276)">TradingView</div>
<svg style="position:absolute;left:0;top:940px" width="200" height="60" viewBox="0 940 200 60">
<path d="M11.9 962.3H23.6V976.7H17.8V967.7H11.9Z" fill="#131722"/>
<circle cx="28.8" cy="964.9" r="2.7" fill="#131722"/>
<path d="M33.5 962.3H41.8L36.4 976.7H29Z" fill="#131722"/>
</svg>
<svg style="position:absolute;left:1010px;top:880px" width="40" height="32" viewBox="1010 880 40 32">
<defs><clipPath id="fc"><circle cx="1031.2" cy="898.85" r="8.1"/></clipPath></defs>
<circle cx="1028.8" cy="898.85" r="10.1" fill="#fff" stroke="#9c27b0" stroke-width="1.3"/>
<circle cx="1031.2" cy="898.85" r="10.1" fill="#fff" stroke="#f23645" stroke-width="1.3"/>
<g clip-path="url(#fc)">
<rect x="1022" y="890" width="18" height="18" fill="#fff"/>
<rect x="1022" y="890.9" width="18" height="3.6" fill="#f04848"/>
<rect x="1022" y="897.2" width="18" height="3.6" fill="#f04848"/>
<rect x="1022" y="903" width="18" height="4" fill="#f04848"/>
<rect x="1022" y="890" width="11" height="10.8" fill="#1e7fe0"/>
<circle cx="1025.5" cy="893.3" r="0.6" fill="#fff"/><circle cx="1028.2" cy="893.3" r="0.6" fill="#fff"/><circle cx="1030.8" cy="893.3" r="0.6" fill="#fff"/>
<circle cx="1025.5" cy="895.9" r="0.6" fill="#fff"/><circle cx="1028.2" cy="895.9" r="0.6" fill="#fff"/><circle cx="1030.8" cy="895.9" r="0.6" fill="#fff"/>
<circle cx="1025.5" cy="898.5" r="0.6" fill="#fff"/><circle cx="1028.2" cy="898.5" r="0.6" fill="#fff"/><circle cx="1030.8" cy="898.5" r="0.6" fill="#fff"/>
</g></svg>
</body></html>
